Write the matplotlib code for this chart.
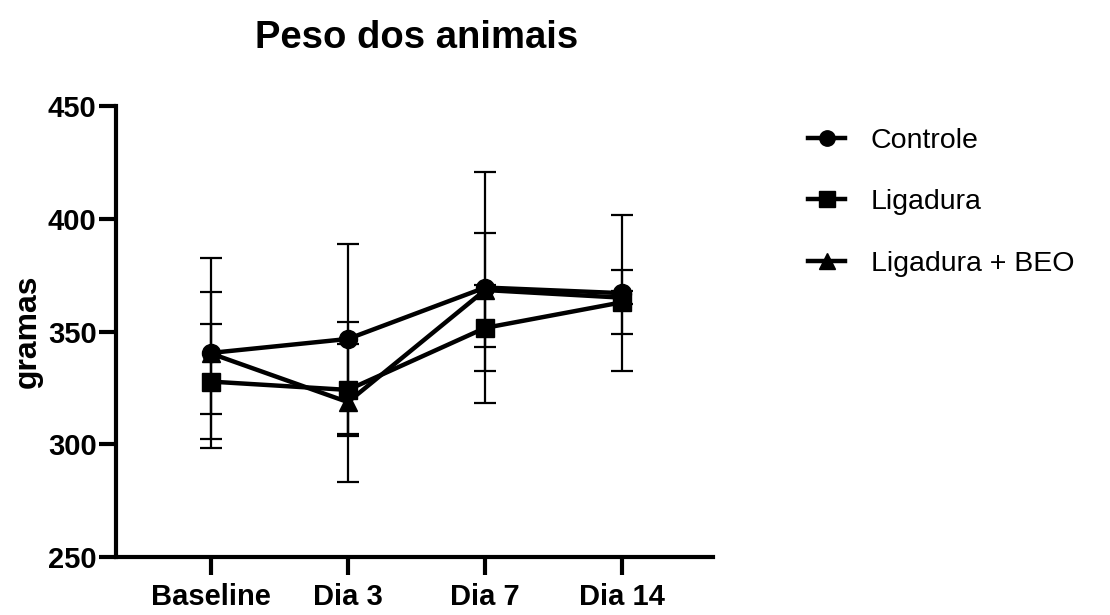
import numpy as np
import matplotlib
matplotlib.use('Agg')
import matplotlib.pyplot as plt

# dados
dias = ['Baseline', 'Dia 3', 'Dia 7', 'Dia 14']

controle = [340.5, 346.7, 369.5, 367.0]
controle_sd = [42.0, 42.0, 51.3, 34.5]

ligadura = [327.8, 324.1, 351.6, 363.0]
ligadura_sd = [25.4, 20.4, 19.0, 14.2]

beo = [340.3, 318.7, 368.4, 365.0]
beo_sd = [27.1, 35.5, 25.3, 3.0]

nomes = ['Controle', 'Ligadura', 'Ligadura + BEO']
marcadores = ['o', 's', '^']

plt.rcParams['font.family'] = ['Liberation Sans', 'DejaVu Sans']

fig = plt.figure(figsize=(11.1, 6.15), dpi=100)
ax = fig.add_axes([0.1045, 0.0943, 0.5378, 0.7333])

x = np.arange(len(dias))
for med, sd, mk, nome in zip([controle, ligadura, beo],
                             [controle_sd, ligadura_sd, beo_sd],
                             marcadores, nomes):
    ax.errorbar(x, med, yerr=sd, fmt='none', ecolor='black',
                elinewidth=1.6, capsize=8, capthick=1.6, zorder=2)
    ax.plot(x, med, color='black', lw=3.2, marker=mk, ms=13,
            label=nome, zorder=3)

ax.set_xlim(-0.69, 3.66)
ax.set_ylim(250, 450)
ax.set_yticks([250, 300, 350, 400, 450])
ax.set_xticks(x)
ax.set_xticklabels(dias)

for s in ['top', 'right']:
    ax.spines[s].set_visible(False)
for s in ['left', 'bottom']:
    ax.spines[s].set_linewidth(3)

ax.tick_params(axis='both', width=3, labelsize=21)
ax.tick_params(axis='x', length=13, pad=6)
ax.tick_params(axis='y', length=12, pad=2)
for lab in ax.get_xticklabels() + ax.get_yticklabels():
    lab.set_fontweight('bold')

ax.set_ylabel('gramas', fontsize=23, fontweight='bold')
ax.yaxis.set_label_coords(-0.122, 0.5)
fig.text(0.3757, 0.938, 'Peso dos animais', ha='center', va='center',
         fontsize=27.5, fontweight='bold')

fig.legend(loc='upper left', bbox_to_anchor=(0.705, 0.834), frameon=False,
           fontsize=20.5, handlelength=1.3, handletextpad=0.9, labelspacing=1.25,
           markerscale=0.85)

fig.savefig('out.png', dpi=100)
